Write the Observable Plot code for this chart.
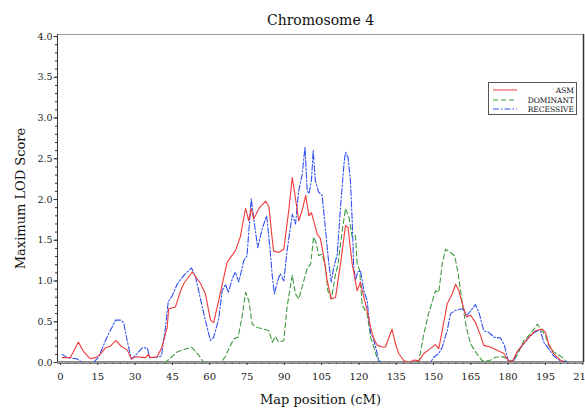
<!DOCTYPE html>
<html><head><meta charset="utf-8">
<script src="https://cdn.jsdelivr.net/npm/d3@7"></script>
<script src="https://cdn.jsdelivr.net/npm/@observablehq/plot@0.6"></script>
<style>
body{margin:0;background:#fff;}
#wrap{position:relative;width:585px;height:415px;}
#legend{position:absolute;left:488px;top:82px;width:89px;height:33px;border:1px solid #555;background:#fff;font-family:"DejaVu Serif";font-size:7.5px;color:#111;box-sizing:border-box;padding-top:3px;}
.row{position:relative;height:9.5px;}
.row svg{position:absolute;left:4px;top:1px;}
.row span{position:absolute;right:2px;top:0;line-height:9px;}
</style></head><body><div id="wrap"></div>
<script>
const title = "Chromosome 4";
const xLabel = "Map position (cM)";
const yLabel = "Maximum LOD Score";
const xTicks = [0,15,30,45,60,75,90,105,120,135,150,165,180,195,210];
const yTicks = [0,0.5,1,1.5,2,2.5,3,3.5,4];
const seriesNames = ["ASM","DOMINANT","RECESSIVE"];
const seriesColors = ["#f03a3a","#3f9a3f","#3050f0"];
const seriesDash = ["none","5,3","6,2,1.5,2"];

const asm = [[0.7,0.06],[4,0.06],[7.15,0.25],[9.4,0.13],[12,0.045],[14.1,0.06],[15.9,0.1],[18.1,0.18],[20.1,0.2],[22.2,0.27],[24.8,0.19],[26.8,0.155],[28.5,0.045],[30.2,0.07],[34.2,0.06],[35.3,0.1],[36.2,0.06],[38.9,0.07],[40.8,0.19],[42.9,0.43],[43.5,0.66],[46.2,0.68],[48.3,0.88],[49.6,0.97],[53,1.11],[56.3,0.97],[58.3,0.84],[60.3,0.52],[61.6,0.49],[63.6,0.76],[65.7,1.05],[67,1.23],[68.4,1.29],[70.3,1.37],[72.3,1.54],[74.4,1.89],[75.7,1.74],[76.7,1.89],[77.7,1.76],[79.8,1.89],[82.5,1.98],[83.8,1.91],[85.2,1.5],[85.7,1.37],[87.7,1.35],[89.8,1.39],[91.8,1.87],[93.2,2.27],[94.5,2.01],[95.8,1.74],[97.2,1.87],[98.6,2.05],[99.9,1.8],[100.9,1.84],[101.8,1.74],[103.2,1.58],[104.5,1.52],[105.9,1.29],[107.2,1.01],[108.9,0.78],[110.6,0.8],[112.6,1.21],[114.6,1.68],[115.6,1.66],[117.3,1.21],[119.3,0.88],[120.6,0.99],[122,0.8],[123.3,0.64],[124.7,0.43],[126,0.29],[127.4,0.21],[129.4,0.19],[130.7,0.19],[132.1,0.31],[133.3,0.41],[134.7,0.23],[136,0.11],[138,0.025],[140.1,0],[142.1,0.03],[144.1,0.02],[146.1,0.11],[148.7,0.17],[150.8,0.22],[152.1,0.17],[153.5,0.39],[155.5,0.72],[157.5,0.84],[158.9,0.96],[160.2,0.88],[161.6,0.72],[163.2,0.56],[164.9,0.58],[166.9,0.49],[168.9,0.33],[170.2,0.21],[172.9,0.19],[175.6,0.15],[178.3,0.11],[180.2,0.016],[181.8,0.02],[183.6,0.13],[185.6,0.21],[188.3,0.31],[191,0.39],[193.7,0.41],[195,0.37],[196.3,0.23],[198.3,0.11],[201,0.03],[202.7,0]];

const dominant = [[0,0],[42.2,0],[46.9,0.13],[52.7,0.19],[55.6,0.09],[57.6,0],[64.6,0],[66.4,0.08],[67.7,0.17],[69.7,0.29],[71.4,0.31],[73,0.56],[74.4,0.86],[75.7,0.76],[77.1,0.47],[79.1,0.43],[81.8,0.41],[83.8,0.39],[85.2,0.25],[86.4,0.32],[87.7,0.25],[89.8,0.27],[91.1,0.68],[93.2,1.07],[94.5,0.84],[95.8,0.78],[97.9,1.01],[99.2,1.15],[100.6,1.21],[101.8,1.54],[102.9,1.46],[103.8,1.31],[105.2,1.33],[106.6,1.17],[107.5,0.88],[108.9,0.78],[110.6,1.09],[111.5,1.19],[113.3,1.62],[114.6,1.89],[116,1.78],[117.3,1.54],[118.6,1.56],[119.3,1.21],[120.3,1.13],[121.3,0.7],[123.3,0.6],[124.7,0.31],[126,0.19],[127.4,0.045],[128.7,0],[143.1,0],[144.1,0.02],[146.1,0.35],[148,0.6],[150.8,0.88],[152.1,0.86],[153.5,1.21],[154.8,1.39],[156.8,1.35],[158.5,1.31],[159.9,1.09],[161.6,0.72],[163.2,0.43],[164.9,0.23],[166.9,0.13],[169.6,0.02],[172.3,0.02],[174.9,0.065],[178.3,0.07],[180.2,0.02],[182.2,0.02],[184.3,0.13],[186.3,0.27],[189,0.35],[191.7,0.47],[193.7,0.39],[195,0.33],[196.3,0.21],[198.3,0.13],[201.7,0.065],[203.7,0]];

const recessive = [[0.7,0.1],[2.7,0.06],[6.65,0.045],[8.7,0],[13.4,0],[15.4,0.07],[18.1,0.27],[19.5,0.36],[22.2,0.52],[24.1,0.52],[25.4,0.49],[26.8,0.27],[28.5,0.04],[30.8,0.11],[32.9,0.18],[34.9,0.18],[35.8,0.06],[38.9,0.065],[40.6,0.08],[42.2,0.43],[43.3,0.74],[44.9,0.82],[46.9,0.96],[49.6,1.07],[52.7,1.16],[54.3,1.05],[56.3,0.78],[58.3,0.51],[60.3,0.27],[61.6,0.31],[63.6,0.53],[65,0.88],[66.4,0.96],[67.5,0.86],[69.1,1.03],[70.3,1.11],[71.7,0.99],[73.7,1.25],[75,1.31],[76.7,2.01],[78,1.7],[79.3,1.41],[81.1,1.64],[82.9,1.8],[84.2,1.41],[85.2,1.05],[86,0.84],[87.3,1],[88.4,1.09],[89.8,1],[91.1,1.37],[93.2,1.82],[94.5,1.7],[95.8,2.11],[97.2,2.31],[98.3,2.64],[99.2,2.11],[99.9,2.07],[100.9,2.23],[101.6,2.6],[102.5,2.23],[103.8,2.09],[105.2,2.05],[106.6,1.62],[107.9,1.21],[108.9,0.99],[109.9,1.17],[111.3,1.33],[112.6,1.91],[114,2.44],[114.6,2.58],[115.6,2.52],[116.6,2.23],[117.3,1.74],[117.9,1.17],[118.6,1.01],[119.5,1.11],[120.6,1.13],[122,0.88],[123.3,0.76],[124.7,0.35],[125.7,0.31],[126.7,0.19],[128,0.02],[129.2,0],[148.7,0],[150.1,0.065],[152.1,0.11],[153.5,0.19],[155.5,0.39],[156.8,0.6],[158.9,0.64],[161.6,0.66],[163.5,0.58],[165.6,0.66],[166.9,0.71],[168.4,0.6],[170.2,0.39],[172.2,0.37],[174.3,0.31],[177,0.3],[178.5,0.21],[180.2,0],[182.2,0.02],[183.6,0.13],[186.3,0.23],[189,0.33],[191.7,0.39],[193,0.39],[194.3,0.25],[196.3,0.17],[198.3,0.08],[201,0.02],[204.7,0]];

const toRows = a => a.map(([x,y]) => ({x,y}));
const series = [asm, dominant, recessive].map(toRows);

const chart = Plot.plot({
  width:585, height:415, marginLeft:57, marginRight:2, marginTop:34, marginBottom:53,
  style:{fontFamily:"DejaVu Serif", fontSize:"9.5px", color:"#222", background:"#fff", overflow:"visible"},
  x:{domain:[-1.2,210.3]},
  y:{domain:[0,4.025]},
  marks:[
    Plot.ruleY([0],{stroke:"#8a8a8a",strokeWidth:3}),
    Plot.line(series[1],{x:"x",y:"y",stroke:seriesColors[1],strokeWidth:1.1,strokeDasharray:seriesDash[1]}),
    Plot.line(series[2],{x:"x",y:"y",stroke:seriesColors[2],strokeWidth:1.1,strokeDasharray:seriesDash[2]}),
    Plot.line(series[0],{x:"x",y:"y",stroke:seriesColors[0],strokeWidth:1.1}),
    Plot.axisY({ticks:d3.range(0,40.5,1).map(v=>v/10), tickSize:2, tickFormat:()=>"", label:null, stroke:"#333"}),
    Plot.axisY({ticks:yTicks, tickSize:3.5, tickPadding:1.5, tickFormat:d3.format(".1f"), label:null, stroke:"#333"}),
    Plot.axisX({ticks:d3.range(0,211,3), tickSize:2, tickFormat:()=>"", label:null, stroke:"#333"}),
    Plot.axisX({ticks:xTicks, tickSize:3, tickPadding:7, label:null, fontSize:10, stroke:"#333"}),
    Plot.frame({stroke:"#9a9a9a"}),
    Plot.ruleX([-1.2],{stroke:"#333"}),
    Plot.ruleX([210.3],{stroke:"#333",strokeWidth:1.5}),
    Plot.text([title],{frameAnchor:"top", dy:-19, fontSize:14, fill:"#111"}),
    Plot.text([xLabel],{frameAnchor:"bottom", dy:41, fontSize:13, fill:"#111"}),
    Plot.text([yLabel],{frameAnchor:"left", textAnchor:"middle", dx:-37, rotate:-90, fontSize:13, fill:"#111"})
  ]
});
const wrap = document.getElementById("wrap");
wrap.appendChild(chart);

const legend = document.createElement("div");
legend.id = "legend";
seriesNames.forEach((name,i) => {
  const row = document.createElement("div");
  row.className = "row";
  row.innerHTML = `<svg width="26" height="6"><line x1="0" y1="3" x2="24" y2="3" stroke="${seriesColors[i]}" stroke-width="1" ${seriesDash[i]!=="none"?`stroke-dasharray="${seriesDash[i]}"`:""}/></svg><span>${name}</span>`;
  legend.appendChild(row);
});
wrap.appendChild(legend);
</script>
</body></html>
